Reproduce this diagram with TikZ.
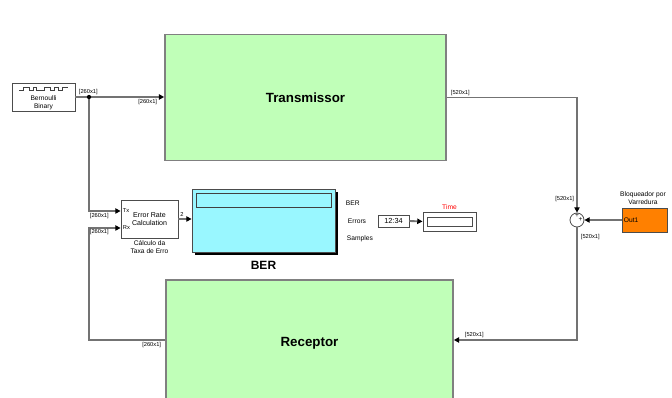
\documentclass[tikz,border=0pt]{standalone}
\usepackage{fontspec}
\setmainfont{Liberation Sans}
\usetikzlibrary{arrows.meta, positioning}
\definecolor{simgreen}{HTML}{C0FFB8}
\definecolor{simcyan}{HTML}{99F7FF}
\definecolor{simorange}{HTML}{FF8000}

\begin{document}
\begin{tikzpicture}[
			x=0.75pt, y=-0.75pt,
			sub/.style={rectangle, draw=black!50, line width=1.2pt, fill=simgreen, font=\bfseries\fontsize{10}{12}\selectfont},
			blk/.style={rectangle, draw=gray!60!black, line width=0.6pt, fill=white, inner sep=1pt, font=\fontsize{5.3}{6.3}\selectfont, align=center},
			sig/.style={draw=black!55, line width=1.4pt, -{Triangle[length=4pt, width=4pt, color=black]}},
			dim/.style={font=\fontsize{4.3}{5}\selectfont, inner sep=0.5pt},
			tag/.style={font=\fontsize{5}{6}\selectfont, inner sep=0.5pt, align=center}
			]
			\useasboundingbox (0,0) rectangle (672,398);
			% subsystems
			\node[sub, minimum width=210.75pt, minimum height=94.5pt] (tx) at (305.5,97.5) {Transmissor};
			\node[sub, minimum width=215.25pt, minimum height=94.5pt] (rx) at (309.5,343) {Receptor};
			% source
			\node[blk, minimum width=47.25pt, minimum height=21pt] (bernoulli) at (43.5,97) {};
			\node[tag] (bernoullitxt) at (43.5,103) {Bernoulli\\Binary};
			\draw[gray!50!black, line width=0.4pt] (19,90) -- (23,90) -- (23,87) -- (29,87) -- (29,90) -- (33,90) -- (33,87) -- (36,87) -- (36,90)
				-- (44,90) -- (44,87) -- (50,87) -- (50,90) -- (54,90) -- (54,87) -- (58,87) -- (58,90) -- (62,90) -- (62,87) -- (68,87);
			% error rate
			\node[blk, minimum width=42.75pt, minimum height=28.5pt] (errcalc) at (149.5,219) {Error Rate\\Calculation};
			\node[tag, anchor=west, font=\fontsize{4.3}{5}\selectfont] (txport) at ([xshift=1pt, yshift=6pt]errcalc.west) {Tx};
			\node[tag, anchor=west, font=\fontsize{4.3}{5}\selectfont] (rxport) at ([xshift=1pt, yshift=-6.75pt]errcalc.west) {Rx};
			\node[tag, below=1pt of errcalc] (errname) {Cálculo da\\Taxa de Erro};
			% display
			\fill[black] (195,192) rectangle (338,255);
			\node[blk, fill=simcyan, minimum width=107.25pt, minimum height=47.25pt] (berdisp) at (263.5,220.5) {};
			\draw[gray!50!black, fill=simcyan, line width=0.6pt] (196,193) rectangle (331,207);
			\node[font=\bfseries\fontsize{9}{10}\selectfont, below=3pt of berdisp] (bername) {BER};
			\node[tag, anchor=west] (berlbl) at (345,203) {BER};
			\node[tag, anchor=west] (errlbl) at (347,221) {Errors};
			\node[tag, anchor=west] (samplbl) at (346,239) {Samples};
			% clock
			\node[blk, minimum width=23.25pt, minimum height=9pt, font=\fontsize{5.5}{6}\selectfont] (clock) at (393.5,221) {12:34};
			\node[blk, minimum width=39.75pt, minimum height=14.25pt] (timedisp) at (449.5,221.5) {};
			\draw[gray!60!black, line width=0.6pt] (427,217) rectangle (472,226);
			\node[tag, text=red, above=0.5pt of timedisp] (timelbl) {Time};
			% sum and hold
			\node[circle, draw=gray!60!black, fill=white, line width=0.6pt, minimum size=10.5pt, inner sep=0pt] (sum) at (577,220) {};
			\node[font=\fontsize{5}{5}\selectfont, inner sep=0pt] (plusa) at (577,216) {+};
			\node[font=\fontsize{5}{5}\selectfont, inner sep=0pt] (plusb) at (580.5,220) {+};
			\node[blk, fill=simorange, minimum width=33.75pt, minimum height=18pt] (bloq) at (644.5,220) {};
			\node[tag, anchor=west] (outlbl) at ([xshift=1pt]bloq.west) {Out1};
			\node[tag] (bloqname) at (643,198) {Bloqueador por\\Varredura};
			% connectors
			\coordinate (split) at (89,97);
			\coordinate (rxbend) at (89,340);
			\coordinate (txin) at ([yshift=6pt]errcalc.west);
			\coordinate (rxin) at ([yshift=-6.75pt]errcalc.west);
			\draw[sig] (bernoulli.east) -- (bernoulli.east -| tx.west);
			\draw[sig] (split) |- (txin);
			\fill[black] (split) circle (1.6pt);
			\draw[sig] ([yshift=2.25pt]rx.west) -- (rxbend) |- (rxin);
			\draw[sig] (errcalc.east) -- (errcalc.east -| berdisp.west);
			\draw[sig] (clock.east) -- (timedisp.west);
			\draw[sig] (tx.east) -| (sum.north);
			\draw[sig] (bloq.west) -- (sum.east);
			\draw[sig] (sum.south) |- ([yshift=2.25pt]rx.east);
			% signal sizes
			\node[dim, anchor=west] (d1) at (78,92) {[260x1]};
			\node[dim, anchor=east] (d2) at (158,102) {[260x1]};
			\node[dim, anchor=west] (d3) at (89,216) {[260x1]};
			\node[dim, anchor=west] (d4) at (89,232) {[260x1]};
			\node[dim, anchor=east] (d5) at (162,345) {[260x1]};
			\node[dim] (d6) at (182,215) {2};
			\node[dim, anchor=west] (d7) at (450,93) {[520x1]};
			\node[dim, anchor=east] (d8) at (575,199) {[520x1]};
			\node[dim, anchor=west] (d9) at (580,237) {[520x1]};
			\node[dim, anchor=west] (d10) at (464,335) {[520x1]};
		\end{tikzpicture}
\end{document}
